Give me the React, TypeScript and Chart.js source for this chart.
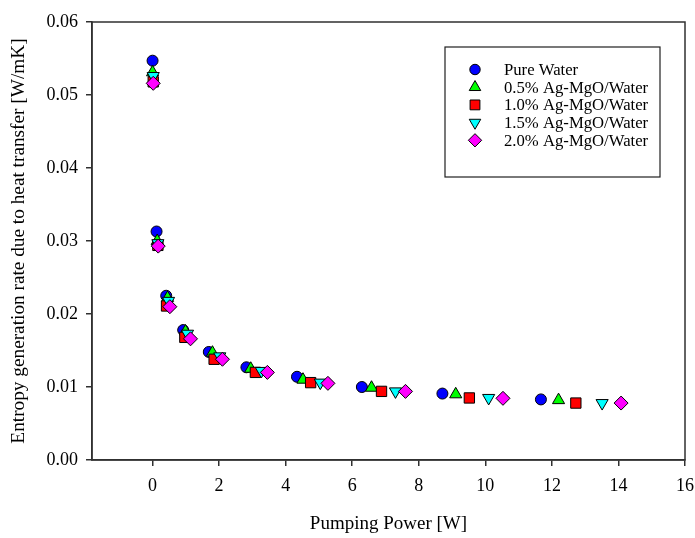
import React, { useEffect, useRef } from "react";
import { Chart, registerables } from "chart.js";
import { drawPoint } from "chart.js/helpers";

Chart.register(...registerables);

const seriesNames = [
  "Pure Water",
  "0.5% Ag-MgO/Water",
  "1.0% Ag-MgO/Water",
  "1.5% Ag-MgO/Water",
  "2.0% Ag-MgO/Water",
];

const pureWaterX = [0.0, 0.12, 0.41, 0.92, 1.69, 2.82, 4.34, 6.29, 8.71, 11.67];
const pureWaterY = [0.0547, 0.0313, 0.0225, 0.0178, 0.0148, 0.0127, 0.0114, 0.01, 0.0091, 0.0083];

const agMgO05X = [0.0, 0.14, 0.45, 0.99, 1.8, 2.95, 4.52, 6.58, 9.11, 12.2];
const agMgO05Y = [0.0531, 0.03, 0.0222, 0.0176, 0.0147, 0.0125, 0.011, 0.0099, 0.009, 0.0082];

const agMgO10X = [0.02, 0.16, 0.42, 0.97, 1.85, 3.09, 4.75, 6.88, 9.52, 12.72];
const agMgO10Y = [0.0518, 0.0294, 0.0211, 0.0168, 0.0138, 0.012, 0.0106, 0.0094, 0.0085, 0.0078];

const agMgO15X = [0.02, 0.16, 0.48, 1.05, 2.02, 3.27, 5.04, 7.3, 10.1, 13.51];
const agMgO15Y = [0.0526, 0.0297, 0.0218, 0.0173, 0.0142, 0.0122, 0.0106, 0.0094, 0.0085, 0.0078];

const agMgO20X = [0.02, 0.17, 0.52, 1.14, 2.1, 3.45, 5.27, 7.6, 10.53, 14.08];
const agMgO20Y = [0.0516, 0.0293, 0.021, 0.0166, 0.0138, 0.012, 0.0105, 0.0094, 0.00845, 0.0078];

const xTickValues = [0, 2, 4, 6, 8, 10, 12, 14, 16];
const yTickValues = [0, 0.01, 0.02, 0.03, 0.04, 0.05, 0.06];

const xTitle = "Pumping Power [W]";
const yTitle = "Entropy generation rate due to heat transfer [W/mK]";

const seriesX = [pureWaterX, agMgO05X, agMgO10X, agMgO15X, agMgO20X];
const seriesY = [pureWaterY, agMgO05Y, agMgO10Y, agMgO15Y, agMgO20Y];

const styles = [
  { color: "#0000ff", pointStyle: "circle", radius: 5.5, rotation: 0 },
  { color: "#00ff00", pointStyle: "triangle", radius: 7, rotation: 0 },
  { color: "#ff0000", pointStyle: "rect", radius: 7.3, rotation: 0 },
  { color: "#00ffff", pointStyle: "triangle", radius: 7, rotation: 180 },
  { color: "#ff00ff", pointStyle: "rectRot", radius: 7, rotation: 0 },
];

const FONT = "'Liberation Serif', 'Times New Roman', serif";

const frameAndLegend = {
  id: "frameAndLegend",
  afterDatasetsDraw(chart: any) {
    const { ctx, chartArea } = chart;
    ctx.save();
    ctx.strokeStyle = "#303030";
    ctx.lineWidth = 1.5;
    ctx.strokeRect(chartArea.left, chartArea.top, chartArea.right - chartArea.left, chartArea.bottom - chartArea.top);

    // legend
    const bx = chartArea.left + 353;
    const by = chartArea.top + 25;
    const bw = 215;
    const bh = 130;
    ctx.fillStyle = "#ffffff";
    ctx.fillRect(bx, by, bw, bh);
    ctx.strokeStyle = "#202020";
    ctx.lineWidth = 1.2;
    ctx.strokeRect(bx, by, bw, bh);
    ctx.font = `16.7px ${FONT}`;
    ctx.textBaseline = "middle";
    ctx.textAlign = "left";
    seriesNames.forEach((name, i) => {
      const y = by + 22.5 + i * 17.7;
      const s = styles[i];
      ctx.fillStyle = s.color;
      ctx.strokeStyle = "#000000";
      ctx.lineWidth = 1;
      drawPoint(ctx, { pointStyle: s.pointStyle as any, radius: s.radius * 0.95, rotation: s.rotation, borderWidth: 1 }, bx + 30, y);
      ctx.fillStyle = "#000000";
      ctx.fillText(name, bx + 59, y + 1);
    });
    ctx.restore();
  },
};

export default function App() {
  const ref = useRef<HTMLCanvasElement>(null);
  useEffect(() => {
    document.body.style.margin = "0";
    const canvas = ref.current!;
    const datasets = seriesNames.map((name, i) => ({
      label: name,
      data: seriesX[i].map((x, j) => ({ x, y: seriesY[i][j] })),
      backgroundColor: styles[i].color,
      borderColor: "#000000",
      pointBorderColor: "#000000",
      pointBorderWidth: 1,
      pointStyle: styles[i].pointStyle,
      pointRadius: styles[i].radius,
      pointRotation: styles[i].rotation,
      showLine: false,
      order: seriesNames.length - i,
    }));
    const chart = new Chart(canvas, {
      type: "scatter",
      data: { datasets } as any,
      plugins: [frameAndLegend],
      options: {
        animation: false,
        responsive: false,
        events: [],
        layout: { padding: { top: 22, right: 10, left: 0, bottom: 0 } },
        plugins: { legend: { display: false }, tooltip: { enabled: false } },
        scales: {
          x: {
            type: "linear",
            min: -1.82,
            max: 16,
            afterBuildTicks: (axis: any) => {
              axis.ticks = xTickValues.map((v) => ({ value: v }));
            },
            afterFit: (axis: any) => {
              axis.height = 78;
              axis.paddingLeft = 0;
              axis.paddingRight = 0;
            },
            grid: { drawOnChartArea: false, drawTicks: true, tickLength: 6, color: "#303030", lineWidth: 1.5 },
            border: { display: true, color: "#303030", width: 1.5 },
            ticks: {
              color: "#000000",
              font: { family: FONT, size: 18 },
              padding: 9,
              maxRotation: 0,
              callback: (v: any) => String(v),
            },
            title: {
              display: true,
              text: xTitle,
              color: "#000000",
              font: { family: FONT, size: 19 },
              padding: { top: 0, bottom: 3 },
            },
          },
          y: {
            type: "linear",
            min: 0,
            max: 0.06,
            afterBuildTicks: (axis: any) => {
              axis.ticks = yTickValues.map((v) => ({ value: v }));
            },
            afterFit: (axis: any) => {
              axis.width = 92;
              axis.paddingTop = 0;
              axis.paddingBottom = 0;
            },
            grid: { drawOnChartArea: false, drawTicks: true, tickLength: 6, color: "#303030", lineWidth: 1.5 },
            border: { display: true, color: "#303030", width: 1.5 },
            ticks: {
              color: "#000000",
              font: { family: FONT, size: 18 },
              padding: 8,
              callback: (v: any) => Number(v).toFixed(2),
            },
            title: {
              display: true,
              text: yTitle,
              color: "#000000",
              font: { family: FONT, size: 19.3 },
              padding: { top: 7, bottom: 0 },
            },
          },
        },
      } as any,
    });
    return () => chart.destroy();
  }, []);
  return (
    <div style={{ width: 695, height: 538, background: "#ffffff" }}>
      <canvas ref={ref} width={695} height={538} style={{ display: "block" }} />
    </div>
  );
}
